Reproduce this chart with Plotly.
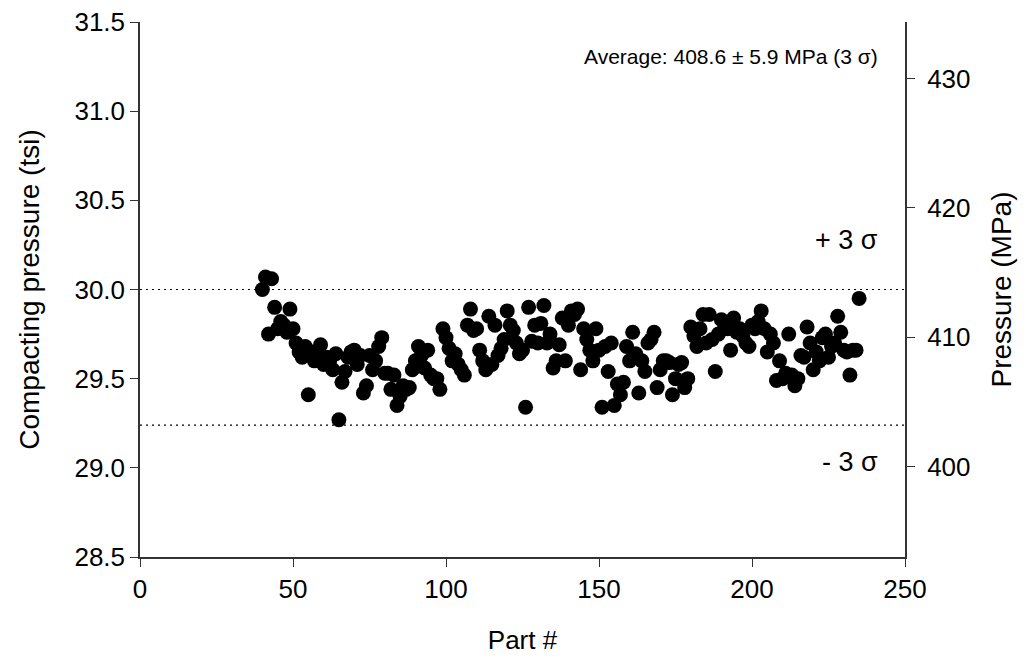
import plotly.graph_objects as go

parts = list(range(40, 236))
pressure_tsi = [
    30.00, 30.07, 29.75, 30.06, 29.90, 29.78, 29.82, 29.80, 29.76, 29.89,  # 40-49
    29.78, 29.70, 29.65, 29.62, 29.68, 29.41, 29.65, 29.60, 29.62, 29.69,  # 50-59
    29.58, 29.62, 29.60, 29.55, 29.64, 29.27, 29.48, 29.54, 29.62, 29.65,  # 60-69
    29.66, 29.58, 29.63, 29.42, 29.46, 29.63, 29.55, 29.60, 29.68, 29.73,  # 70-79
    29.53, 29.53, 29.44, 29.52, 29.35, 29.40, 29.46, 29.44, 29.45, 29.55,  # 80-89
    29.60, 29.68, 29.63, 29.56, 29.66, 29.52, 29.50, 29.50, 29.44, 29.78,  # 90-99
    29.73, 29.67, 29.60, 29.64, 29.58, 29.55, 29.52, 29.80, 29.89, 29.77,  # 100-109
    29.78, 29.66, 29.60, 29.55, 29.85, 29.58, 29.80, 29.63, 29.67, 29.72,  # 110-119
    29.88, 29.80, 29.77, 29.70, 29.64, 29.66, 29.34, 29.90, 29.71, 29.80,  # 120-129
    29.70, 29.81, 29.91, 29.70, 29.75, 29.56, 29.60, 29.69, 29.84, 29.60,  # 130-139
    29.80, 29.88, 29.86, 29.89, 29.55, 29.78, 29.72, 29.66, 29.60, 29.78,  # 140-149
    29.66, 29.34, 29.68, 29.54, 29.70, 29.35, 29.47, 29.41, 29.48, 29.68,  # 150-159
    29.60, 29.76, 29.64, 29.42, 29.60, 29.54, 29.70, 29.72, 29.76, 29.45,  # 160-169
    29.55, 29.60, 29.60, 29.59, 29.41, 29.50, 29.58, 29.59, 29.45, 29.50,  # 170-179
    29.79, 29.74, 29.68, 29.78, 29.86, 29.70, 29.86, 29.72, 29.54, 29.75,  # 180-189
    29.83, 29.78, 29.78, 29.66, 29.84, 29.76, 29.78, 29.74, 29.70, 29.68,  # 190-199
    29.80, 29.78, 29.82, 29.88, 29.78, 29.65, 29.75, 29.70, 29.49, 29.60,  # 200-209
    29.50, 29.53, 29.75, 29.52, 29.46, 29.50, 29.63, 29.62, 29.79, 29.70,  # 210-219
    29.55, 29.65, 29.60, 29.73, 29.75, 29.62, 29.68, 29.70, 29.85, 29.76,  # 220-229
    29.66, 29.65, 29.52, 29.66, 29.66, 29.95,                              # 230-235
]
TSI_TO_MPA = 13.7895
pressure_mpa = [v * TSI_TO_MPA for v in pressure_tsi]

upper_limit = 30.00
lower_limit = 29.24
y_range_tsi = [28.5, 31.5]
x_ticks = [0, 50, 100, 150, 200, 250]

FONT = "Liberation Sans, Arial, sans-serif"

fig = go.Figure()
fig.add_trace(go.Scatter(
    x=parts, y=pressure_tsi, mode="markers",
    marker=dict(color="black", size=15, line=dict(width=0)),
    showlegend=False, hoverinfo="x+y",
))
fig.add_trace(go.Scatter(
    x=parts, y=pressure_mpa, mode="markers", yaxis="y2",
    marker=dict(color="rgba(0,0,0,0)", size=1),
    showlegend=False, hoverinfo="skip",
))

for lim in (upper_limit, lower_limit):
    fig.add_shape(type="line", xref="paper", yref="y", x0=0, x1=1, y0=lim, y1=lim,
                  line=dict(color="black", width=1.2, dash="2px,4px"))

fig.add_annotation(xref="paper", yref="y", x=0.967, y=30.277, text="+ 3 σ",
                   showarrow=False, xanchor="right", yanchor="middle",
                   font=dict(size=27, color="black", family=FONT))
fig.add_annotation(xref="paper", yref="y", x=0.967, y=29.032, text="- 3 σ",
                   showarrow=False, xanchor="right", yanchor="middle",
                   font=dict(size=27, color="black", family=FONT))
fig.add_annotation(xref="paper", yref="paper", x=0.967, y=0.936,
                   text="Average: 408.6 ± 5.9 MPa (3 σ)", showarrow=False,
                   xanchor="right", yanchor="middle",
                   font=dict(size=21, color="black", family=FONT))

fig.update_layout(
    width=1034, height=669,
    margin=dict(l=132, r=137, t=14, b=120, autoexpand=False),
    paper_bgcolor="white", plot_bgcolor="white",
    font=dict(family=FONT, color="black", size=26),
    xaxis=dict(
        range=[0, 250], tickvals=x_ticks, showgrid=False, zeroline=False,
        showline=True, linecolor="#333", linewidth=1.5, automargin=False,
        ticks="outside", ticklen=8, tickcolor="#333",
        title=dict(text="Part #", font=dict(size=26), standoff=28),
        tickfont=dict(size=26),
    ),
    yaxis=dict(
        range=y_range_tsi, dtick=0.5, tickformat=".1f", showgrid=False, zeroline=False,
        showline=True, linecolor="#333", linewidth=1.5, automargin=False,
        ticks="outside", ticklen=8, tickcolor="#333", ticklabeloverflow="allow",
        title=dict(text="Compacting pressure (tsi)", font=dict(size=28), standoff=27),
        tickfont=dict(size=26),
    ),
    yaxis2=dict(
        range=[y_range_tsi[0] * TSI_TO_MPA, y_range_tsi[1] * TSI_TO_MPA],
        dtick=10, tick0=400, overlaying="y", side="right", showgrid=False, zeroline=False,
        showline=True, linecolor="#333", linewidth=1.5, automargin=False,
        ticks="outside", ticklen=8, tickcolor="#333", tickprefix="\u00a0",
        title=dict(text="Pressure (MPa)", font=dict(size=28), standoff=22),
        tickfont=dict(size=26),
    ),
)

fig.write_html("out.html")
